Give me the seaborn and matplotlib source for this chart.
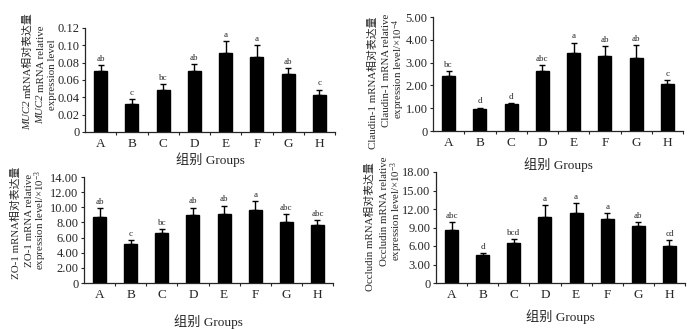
import numpy as np
import pandas as pd
import matplotlib
matplotlib.use("Agg")
import matplotlib.pyplot as plt
from matplotlib.ticker import FixedLocator
import seaborn as sns

groups = ["A", "B", "C", "D", "E", "F", "G", "H"]

muc2_mean = [0.070, 0.032, 0.048, 0.070, 0.091, 0.086, 0.067, 0.043]
muc2_err = [0.007, 0.006, 0.007, 0.008, 0.014, 0.014, 0.007, 0.006]
muc2_sig = ["ab", "c", "bc", "ab", "a", "a", "ab", "c"]

cldn_mean = [2.41, 0.98, 1.17, 2.62, 3.44, 3.27, 3.19, 2.08]
cldn_err = [0.21, 0.05, 0.04, 0.27, 0.44, 0.45, 0.60, 0.15]
cldn_sig = ["bc", "d", "d", "abc", "a", "ab", "ab", "c"]

zo1_mean = [8.77, 5.18, 6.56, 9.04, 9.13, 9.61, 8.02, 7.62]
zo1_err = [1.15, 0.45, 0.53, 0.93, 1.10, 1.20, 1.06, 0.71]
zo1_sig = ["ab", "c", "bc", "ab", "ab", "a", "abc", "abc"]

ocln_mean = [8.54, 4.62, 6.52, 10.77, 11.31, 10.44, 9.24, 5.98]
ocln_err = [1.30, 0.27, 0.60, 1.85, 1.63, 0.87, 0.66, 1.03]
ocln_sig = ["abc", "d", "bcd", "a", "a", "a", "ab", "cd"]

muc2_ticks = [0, 0.02, 0.04, 0.06, 0.08, 0.10, 0.12]
cldn_ticks = [0, 1, 2, 3, 4, 5]
zo1_ticks = [0, 2, 4, 6, 8, 10, 12, 14]
ocln_ticks = [0, 3, 6, 9, 12, 15, 18]

xlabel_text = "组别 Groups"

sns.set_style("ticks")
plt.rcParams["font.family"] = ["Liberation Serif", "Noto Sans CJK SC", "DejaVu Sans"]
plt.rcParams["mathtext.fontset"] = "custom"
plt.rcParams["mathtext.rm"] = "Liberation Serif"
plt.rcParams["mathtext.it"] = "Liberation Serif:italic"
plt.rcParams["axes.linewidth"] = 0.9

W, H, DPI = 700, 329, 100
fig = plt.figure(figsize=(W / DPI, H / DPI), dpi=DPI)
fig.patch.set_facecolor("white")


def px_axes(left, top, right, bottom):
    return fig.add_axes([left / W, 1 - bottom / H, (right - left) / W, (bottom - top) / H])


def panel(ax, means, errs, sigs, ticks, fmt, xlab_y):
    df = pd.DataFrame({"group": groups, "value": means})
    sns.barplot(data=df, x="group", y="value", color="black", width=0.42,
                errorbar=None, ax=ax, saturation=1, edgecolor="black")
    pos = np.arange(len(groups))
    ax.errorbar(pos, means, yerr=[np.zeros(len(errs)), errs], fmt="none",
                ecolor="black", elinewidth=1.0, capsize=2.2, capthick=1.0)
    for x, m, e, s in zip(pos, means, errs, sigs):
        ax.annotate(s, (x, m + e), xytext=(0, 1.5), textcoords="offset points",
                    ha="center", va="bottom", fontsize=6.5)
    ax.set_xlim(-0.5, 7.5)
    ax.set_ylim(0, ticks[-1])
    labels = ["0"] + [fmt % t for t in ticks[1:]]
    ax.set_yticks(ticks, labels)
    ax.set_ylabel("")
    ax.set_xlabel(xlabel_text, fontsize=9.5, va="center")
    hpx = ax.get_position().height * H
    ax.xaxis.set_label_coords(0.5, -xlab_y / hpx)
    ax.xaxis.set_minor_locator(FixedLocator(np.arange(0.5, 8, 1.0)))
    ax.tick_params(axis="x", which="major", length=0, pad=4, labelsize=9.5)
    ax.tick_params(axis="x", which="minor", length=2.5, width=0.8, direction="out")
    ax.tick_params(axis="y", length=2.5, width=0.8, direction="out", pad=1.5, labelsize=9)
    sns.despine(ax=ax)
    ax.set_facecolor("white")


def stacked_label(x_px, yc_px, pieces, size=7.8):
    """Draw one rotated label line built from (text, style) pieces."""
    renderer = fig.canvas.get_renderer()
    em = size * DPI / 72
    gap = 0.25 * em
    lengths = []
    for txt, style in pieces:
        t = fig.text(0, 0, txt, fontsize=size, style=style)
        lengths.append(t.get_window_extent(renderer).width)
        t.remove()
    total = sum(lengths) + gap * (len(pieces) - 1)
    y = yc_px + total / 2
    base_x = x_px + 0.33 * em
    for (txt, style), length in zip(pieces, lengths):
        fig.text(base_x / W, 1 - y / H, txt, fontsize=size, style=style,
                 rotation=90, rotation_mode="anchor", ha="left", va="baseline")
        y -= length + gap


ax1 = px_axes(85, 28, 335, 132)
panel(ax1, muc2_mean, muc2_err, muc2_sig, muc2_ticks, "%.2f", 28)
ax2 = px_axes(433, 17, 683, 131)
panel(ax2, cldn_mean, cldn_err, cldn_sig, cldn_ticks, "%.2f", 34)
ax3 = px_axes(84, 177, 333, 283)
panel(ax3, zo1_mean, zo1_err, zo1_sig, zo1_ticks, "%.2f", 39)
ax4 = px_axes(436, 172, 685, 283)
panel(ax4, ocln_mean, ocln_err, ocln_sig, ocln_ticks, "%.2f", 34)

fig.canvas.draw()

# MUC2
stacked_label(27, 71, [("MUC2", "italic"), ("mRNA相对表达量", "normal")])
stacked_label(40, 75, [("MUC2", "italic"), ("mRNA relative", "normal")])
stacked_label(51, 75, [("expression level", "normal")])
# Claudin-1
stacked_label(372, 83, [("Claudin-1 mRNA相对表达量", "normal")])
stacked_label(385, 70, [("Claudin-1 mRNA relative", "normal")])
stacked_label(398, 69, [(r"expression level/×10$^{-4}$", "normal")])
# ZO-1
stacked_label(15, 223, [("ZO-1 mRNA相对表达量", "normal")])
stacked_label(28, 220, [("ZO-1 mRNA relative", "normal")])
stacked_label(40, 220, [(r"expression level/×10$^{-3}$", "normal")])
# Occludin
stacked_label(369, 227, [("Occludin mRNA相对表达量", "normal")])
stacked_label(383, 211, [("Occludin mRNA relative", "normal")])
stacked_label(396, 211, [(r"expression level/×10$^{-3}$", "normal")])

fig.savefig("out.png", dpi=DPI, facecolor="white")
